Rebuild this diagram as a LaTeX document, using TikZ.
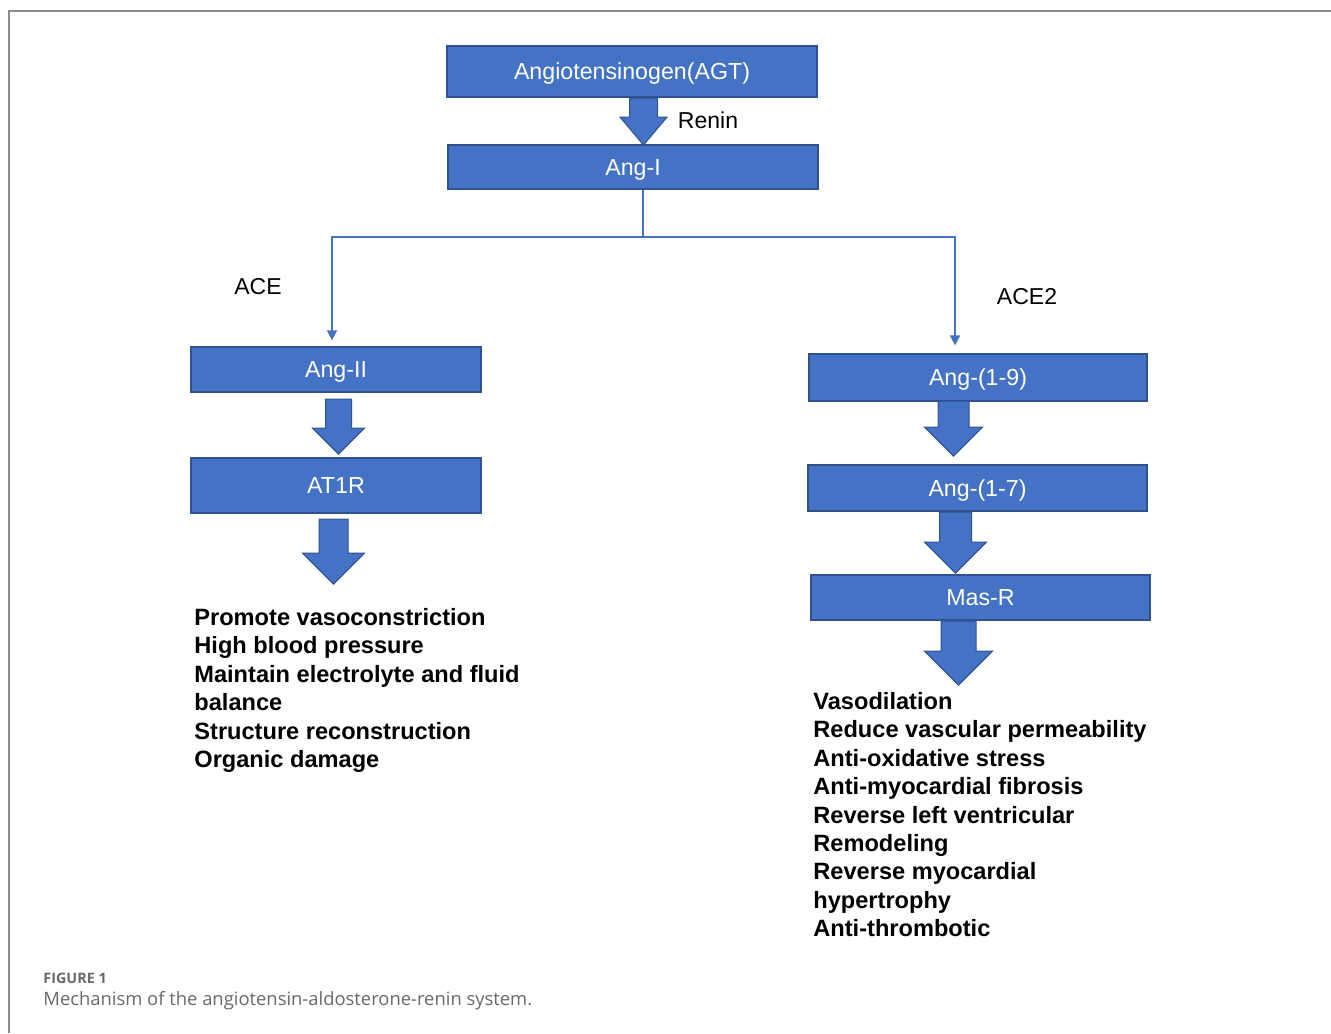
\documentclass[tikz,border=0pt]{standalone}
\usepackage{fontspec}
\setmainfont{Liberation Sans}
\newfontfamily\capfont{Open Sans}
\usetikzlibrary{shapes.arrows,arrows.meta}
\definecolor{boxBlue}{RGB}{68,114,196}
\definecolor{boxEdge}{RGB}{47,82,143}
\definecolor{frameGray}{RGB}{140,140,140}
\definecolor{capGray}{RGB}{105,105,105}

\begin{document}
\begin{tikzpicture}[x=0.5pt,y=-0.5pt,
    stage/.style={draw=boxEdge,line width=0.6pt,fill=boxBlue,text=white,inner sep=0pt,text height=8.4pt,text depth=0pt,font=\fontsize{11.6}{14}\selectfont},
    flow/.style={single arrow,draw=boxEdge,line width=0.5pt,fill=boxBlue,inner xsep=0pt,rotate=-90,anchor=tail,single arrow tip angle=90},
    link/.style={draw=boxBlue,line width=0.75pt},
    tag/.style={font=\fontsize{11.5}{14}\selectfont},
    effects/.style={anchor=north west,align=left,inner sep=0pt,font=\bfseries\fontsize{11.8}{14.2}\selectfont}]
        \useasboundingbox (0,0) rectangle (1331,1033);
        \draw[frameGray,line width=1pt] (9,1033) -- (9,11) -- (1331,11);
        % top of the cascade
        \node[stage,minimum width=185pt,minimum height=25.5pt] (agt) at (632,71.5) {Angiotensinogen(AGT)};
        \node[stage,minimum width=185pt,minimum height=22pt] (angI) at (633,167) {Ang-I};
        \node[flow,inner ysep=6.75pt,minimum height=23.5pt,minimum width=23pt,single arrow head extend=4.75pt,single arrow tip angle=80] (renarrow) at ([xshift=5.75pt]agt.south) {};
        \node[tag] (renin) at (708,120) {Renin};
        % ACE branch
        \node[stage,minimum width=145pt,minimum height=22.5pt] (angII) at (336,369.5) {Ang-II};
        \node[stage,minimum width=145pt,minimum height=27.5pt] (at1r) at (336,485.5) {AT1R};
        \node[flow,inner ysep=6.25pt,minimum height=27.5pt,minimum width=25.5pt,single arrow head extend=6.5pt] (aceA) at ([xshift=1.25pt,yshift=-3pt]angII.south) {};
        \node[flow,inner ysep=7pt,minimum height=32.5pt,minimum width=30.5pt,single arrow head extend=8.25pt] (aceB) at ([xshift=-1.25pt,yshift=-2.5pt]at1r.south) {};
        \node[tag] (ace) at (258,287) {ACE};
        \node[effects] (aceout) at (194,608) {Promote vasoconstriction\\High blood pressure\\Maintain electrolyte and fluid\\balance\\Structure reconstruction\\Organic damage};
        % ACE2 branch
        \node[stage,minimum width=169pt,minimum height=23.5pt] (ang19) at (978,377.5) {Ang-(1-9)};
        \node[stage,minimum width=169.5pt,minimum height=23pt] (ang17) at (977.5,488) {Ang-(1-7)};
        \node[stage,minimum width=169.5pt,minimum height=22.5pt] (masr) at (980.5,597.5) {Mas-R};
        \node[flow,inner ysep=7.5pt,minimum height=27.5pt,minimum width=28.5pt,single arrow head extend=6.75pt] (aceC) at ([xshift=-12.25pt,yshift=0.5pt]ang19.south) {};
        \node[flow,inner ysep=7.75pt,minimum height=30.5pt,minimum width=30.5pt,single arrow head extend=7.5pt] (aceD) at ([xshift=-11pt]ang17.south) {};
        \node[flow,inner ysep=8.5pt,minimum height=32pt,minimum width=33.5pt,single arrow head extend=8.25pt] (aceE) at ([xshift=-11pt]masr.south) {};
        \node[tag] (ace2) at (1027,297) {ACE2};
        \node[effects] (ace2out) at (813,692) {Vasodilation\\Reduce vascular permeability\\Anti-oxidative stress\\Anti-myocardial fibrosis\\Reverse left ventricular\\Remodeling\\Reverse myocardial\\hypertrophy\\Anti-thrombotic};
        % split below Ang-I
        \coordinate (fork) at (643,237);
        \draw[link] (angI.south -| fork) -- (fork);
        \draw[link,-{Triangle[width=5pt,length=5pt]}] (fork) -| ([xshift=-2pt,yshift=3pt]angII.north);
        \draw[link,-{Triangle[width=5pt,length=5pt]}] (fork) -| ([xshift=-11.5pt,yshift=4pt]ang19.north);
        % caption
        \node[anchor=west,inner sep=0pt,text=capGray,font=\capfont\bfseries\fontsize{7.2}{9}\selectfont] (fig) at (43,978) {FIGURE 1};
        \node[anchor=west,inner sep=0pt,text=capGray,font=\capfont\fontsize{9.2}{11}\selectfont] (caption) at (43,1001) {Mechanism of the angiotensin-aldosterone-renin system.};
      \end{tikzpicture}
\end{document}
